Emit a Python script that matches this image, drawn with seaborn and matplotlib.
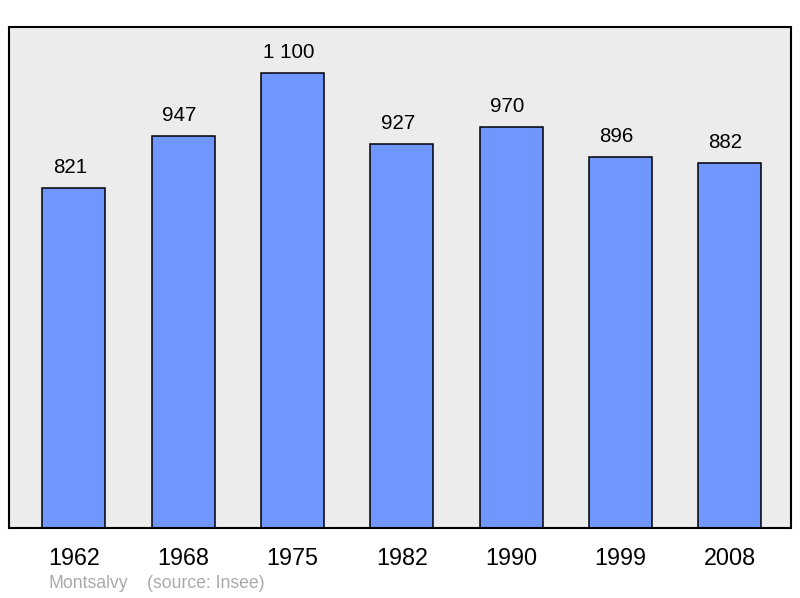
import seaborn as sns
import pandas as pd
from matplotlib import pyplot as plt

years = ["1962", "1968", "1975", "1982", "1990", "1999", "2008"]
population = [821, 947, 1100, 927, 970, 896, 882]
value_labels = ["821", "947", "1 100", "927", "970", "896", "882"]
commune = "Montsalvy"
source = "(source: Insee)"

sns.set_style("white")
plt.rcParams['font.family'] = ['Liberation Sans', 'DejaVu Sans']
plt.rcParams['text.color'] = 'black'
plt.rcParams['xtick.color'] = 'black'

df = pd.DataFrame({"Year": years, "Population": population})

fig = plt.figure(figsize=(8, 5.98), dpi=100)
ax = fig.add_axes([9 / 800, 70 / 598, 782 / 800, 501 / 598])
ax.set_facecolor("#ececec")

sns.barplot(data=df, x="Year", y="Population", color="#7097ff", saturation=1,
            edgecolor="black", linewidth=1.1, width=0.577, ax=ax)

# value above each bar (slightly left of centre, as in the original)
for i, (v, s) in enumerate(zip(population, value_labels)):
    ax.annotate(s, (i, v), xytext=(-2.9, 10.8), textcoords="offset points",
                ha="center", va="baseline", fontsize=14.8, color="black")

ax.set_xlim(-0.594, 6.561)
ax.set_ylim(0, 1211)
ax.set_yticks([])
ax.set_xlabel("")
ax.set_ylabel("")
ax.tick_params(axis="x", length=0, labelsize=16.8, pad=14, labelcolor="black")
for sp in ax.spines.values():
    sp.set_visible(True)
    sp.set_color("black")
    sp.set_linewidth(1.5)

fig.text(48 / 800, 1 - 584 / 598, commune, color="#aaaaaa", fontsize=12.7, va="center")
fig.text(147 / 800, 1 - 584 / 598, source, color="#aaaaaa", fontsize=12.7, va="center")

fig.savefig("out.png", dpi=100)
